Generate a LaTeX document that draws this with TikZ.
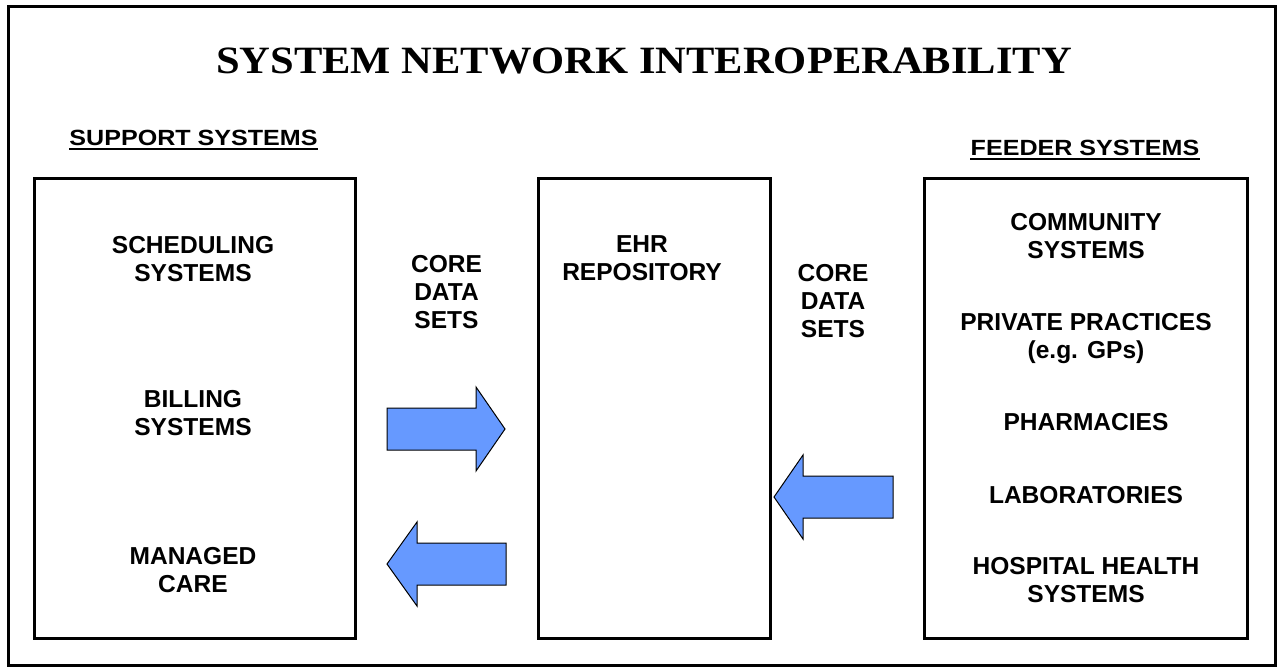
\documentclass[tikz,border=0pt]{standalone}
\usepackage{fontspec}
\setmainfont{Liberation Sans}
\newfontfamily\titlefont{Liberation Serif}
\definecolor{arrowblue}{RGB}{102,153,255}
\begin{document}
\begin{tikzpicture}[x=0.75pt,y=-0.75pt,
  body/.style={font=\fontsize{18.4}{21}\selectfont\bfseries, align=center, inner sep=0pt, anchor=north},
  header/.style={font=\fontsize{16.5}{19}\selectfont\bfseries, inner sep=0pt, anchor=north},
  panel/.style={draw, line width=2.25pt, line join=miter},
  blockarrow/.style={draw, fill=arrowblue, line width=0.75pt, line join=miter}]
\useasboundingbox (0,0) rectangle (1280,668);
% outer frame
\draw[line width=2.5pt, line join=miter] (8.5,6.5) rectangle (1275.5,665.5);
% title
\node[inner sep=0pt, anchor=north, font=\titlefont\fontsize{29}{32}\selectfont\bfseries] (title) at (644,48)
  {\scalebox{1.1}[1]{SYSTEM NETWORK INTEROPERABILITY}};
% headers
\node[header] (support) at (193.5,130) {\scalebox{1.14}[1]{SUPPORT SYSTEMS}};
\draw[line width=1.5pt] ([yshift=-2.5pt]support.south west) -- ([yshift=-2.5pt]support.south east);
\node[header] (feeder) at (1085,140) {\scalebox{1.14}[1]{FEEDER SYSTEMS}};
\draw[line width=1.5pt] ([yshift=-2.5pt]feeder.south west) -- ([yshift=-2.5pt]feeder.south east);
% panels
\draw[panel] (34.5,178.5) rectangle (355.5,638.5);
\draw[panel] (538.5,178.5) rectangle (770.5,638.5);
\draw[panel] (924.5,178.5) rectangle (1247,638.5);
% left panel texts
\node[body] (sched) at (193,236) {SCHEDULING\\SYSTEMS};
\node[body] (bill) at (193,390) {BILLING\\SYSTEMS};
\node[body] (managed) at (193,547) {MANAGED\\CARE};
% middle
\node[body] (coreL) at (446.5,255) {CORE\\DATA\\SETS};
\node[body] (ehr) at (642,235) {EHR\\REPOSITORY};
\node[body] (coreR) at (833,264) {CORE\\DATA\\SETS};
% right panel texts
\node[body] (community) at (1086,213) {COMMUNITY\\SYSTEMS};
\node[body] (private) at (1086,313.5) {PRIVATE PRACTICES\\(e.g. GPs)};
\node[body] (pharm) at (1086,413.5) {PHARMACIES};
\node[body] (labs) at (1086,486) {LABORATORIES};
\node[body] (hosp) at (1086,557) {HOSPITAL HEALTH\\SYSTEMS};
% block arrows
\draw[blockarrow] (387,408) -- (476,408) -- (476,387) -- (505,429) -- (476,471) -- (476,450) -- (387,450) -- cycle;
\draw[blockarrow] (506,543) -- (417,543) -- (417,522) -- (387,564) -- (417,606) -- (417,585) -- (506,585) -- cycle;
\draw[blockarrow] (893,476) -- (803,476) -- (803,455) -- (774,497) -- (803,539) -- (803,518) -- (893,518) -- cycle;
\end{tikzpicture}
\end{document}
